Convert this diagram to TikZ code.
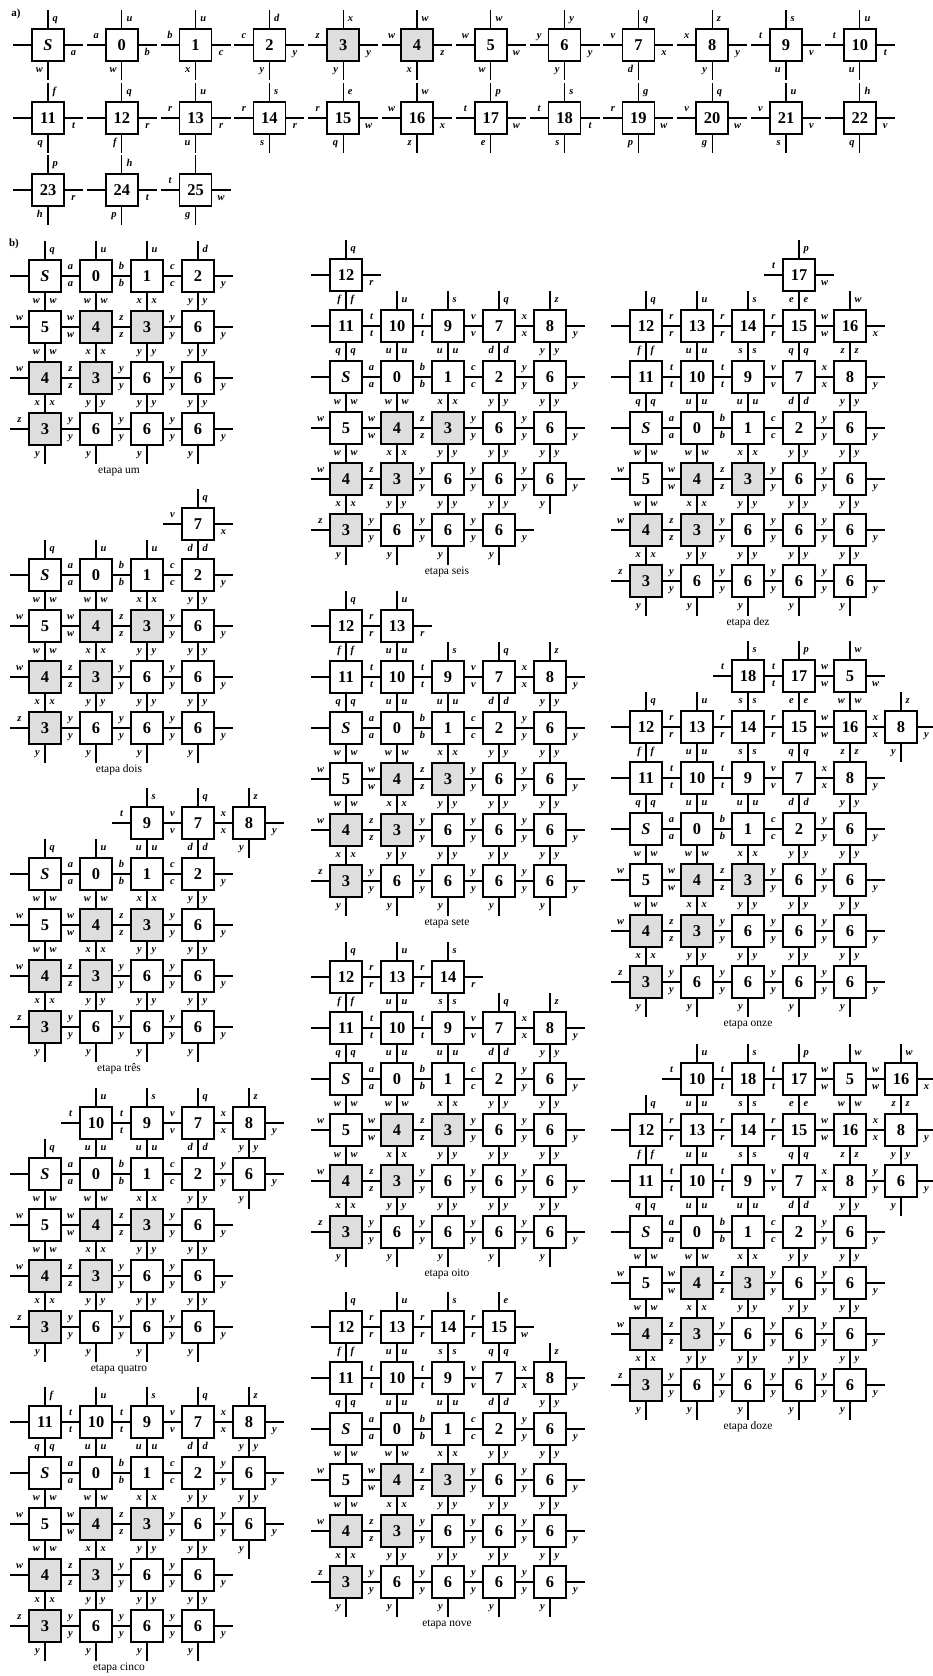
\documentclass[tikz,border=0pt]{standalone}
\usepackage{fontspec}
\setmainfont{Liberation Serif}
\newcommand\numfont{\fontsize{16.5}{16.5}\selectfont\bfseries}
\newcommand\labfont{\fontsize{10.5}{10.5}\selectfont\bfseries\itshape}
\newcommand\titfont{\fontsize{11.5}{12}\selectfont}
\newcommand\TL{19}
\newcommand\deftile[7]{\expandafter\def\csname wt#1\endcsname{{#2}{#3}{#4}{#5}{#6}{#7}}}
\newcommand\wtlab[5]{\def\wttmp{#1}\ifx\wttmp\empty\else\node[wlab,anchor=#3] (#2) at ({#4},{#5}) {#1};\fi}
\def\wtdraw#1#2#3#4#5#6#7#8#9{%
  \node[wbox,#5] (#7) at (#8,#9) {#6};
  \draw[wstub] (#7.north) -- ++(0,-\TL);
  \draw[wstub] (#7.south) -- ++(0,\TL);
  \draw[wstub] (#7.east) -- ++(\TL,0);
  \draw[wstub] (#7.west) -- ++(-\TL,0);
  \wtlab{#1}{#7t}{mid west}{#8+4.5}{#9-25.5}%
  \wtlab{#2}{#7r}{mid}{#8+25.5}{#9+8}%
  \wtlab{#3}{#7b}{mid east}{#8-5}{#9+25.5}%
  \wtlab{#4}{#7l}{mid}{#8-25.5}{#9-9}%
}
\newcommand\wtile[4]{\expandafter\expandafter\expandafter\wtdraw\csname wt#4\endcsname{#1}{#2}{#3}}
\newcommand\etapa[6]{%
  \edef\etlist{#4}%
  \foreach \c/\r/\i in \etlist {%
    \pgfmathsetmacro\px{#2+51*(\c)}%
    \pgfmathsetmacro\py{#3+51*(\r)}%
    \wtile{#1-\c-\r}{\px}{\py}{\i}%
  }%
  \node[wtitle] (#1title) at ({#2+#6},{#3+195}) {#5};
}
\deftile{S}{q}{a}{w}{}{wplain}{\textit{S}}
\deftile{0}{u}{b}{w}{a}{wplain}{0}
\deftile{1}{u}{c}{x}{b}{wplain}{1}
\deftile{2}{d}{y}{y}{c}{wplain}{2}
\deftile{3}{x}{y}{y}{z}{wshade}{3}
\deftile{4}{w}{z}{x}{w}{wshade}{4}
\deftile{5}{w}{w}{w}{w}{wplain}{5}
\deftile{6}{y}{y}{y}{y}{wplain}{6}
\deftile{7}{q}{x}{d}{v}{wplain}{7}
\deftile{8}{z}{y}{y}{x}{wplain}{8}
\deftile{9}{s}{v}{u}{t}{wplain}{9}
\deftile{10}{u}{t}{u}{t}{wplain}{10}
\deftile{11}{f}{t}{q}{}{wplain}{11}
\deftile{12}{q}{r}{f}{}{wplain}{12}
\deftile{13}{u}{r}{u}{r}{wplain}{13}
\deftile{14}{s}{r}{s}{r}{wplain}{14}
\deftile{15}{e}{w}{q}{r}{wplain}{15}
\deftile{16}{w}{x}{z}{w}{wplain}{16}
\deftile{17}{p}{w}{e}{t}{wplain}{17}
\deftile{18}{s}{t}{s}{t}{wplain}{18}
\deftile{19}{g}{w}{p}{r}{wplain}{19}
\deftile{20}{q}{w}{g}{v}{wplain}{20}
\deftile{21}{u}{v}{s}{v}{wplain}{21}
\deftile{22}{h}{v}{q}{}{wplain}{22}
\deftile{23}{p}{r}{h}{}{wplain}{23}
\deftile{24}{h}{t}{p}{}{wplain}{24}
\deftile{25}{}{w}{g}{t}{wplain}{25}
\def\baseL{0/0/S,1/0/0,2/0/1,3/0/2,0/1/5,1/1/4,2/1/3,3/1/6,0/2/4,1/2/3,2/2/6,3/2/6,0/3/3,1/3/6,2/3/6,3/3/6}
\def\rowM{0/-1/11,1/-1/10,2/-1/9,3/-1/7,4/-1/8}
\def\colF{4/0/6,4/1/6,4/2/6,4/3/6}
\def\rowT{0/-2/12,1/-2/13,2/-2/14,3/-2/15}
\tikzset{
  wbox/.style={draw, line width=1.7bp, minimum size=32bp, inner sep=0pt, outer sep=0pt, font=\numfont},
  wplain/.style={fill=white},
  wshade/.style={fill=black!13},
  wstub/.style={line width=1.3bp},
  wlab/.style={inner sep=0pt, font=\labfont},
  wtitle/.style={inner sep=0pt, font=\titfont},
  parttag/.style={inner sep=0pt, font=\fontsize{11}{11}\selectfont\bfseries}
}
\begin{document}
\begin{tikzpicture}[x=1bp,y=-1bp]
\fill[white] (0,0) rectangle (932,1676);
\useasboundingbox (0,0) rectangle (932,1676);
\node[parttag] (taga) at (16,14) {a)};
\node[parttag] (tagb) at (14,244) {b)};
% part a
\foreach \i [count=\k from 0] in {S,0,1,2,3,4,5,6,7,8,9,10} {%
  \pgfmathsetmacro\px{48+73.8*\k}%
  \wtile{a-\i}{\px}{45}{\i}}
\foreach \i [count=\k from 0] in {11,12,13,14,15,16,17,18,19,20,21,22} {%
  \pgfmathsetmacro\px{48+73.8*\k}%
  \wtile{a-\i}{\px}{118}{\i}}
\foreach \i [count=\k from 0] in {23,24,25} {%
  \pgfmathsetmacro\px{48+73.8*\k}%
  \wtile{a-\i}{\px}{190}{\i}}
% part b, column 1
\etapa{um}{45}{276}{\baseL}{etapa um}{74}
\etapa{dois}{45}{575}{\baseL,3/-1/7}{etapa dois}{74}
\etapa{tres}{45}{874}{\baseL,2/-1/9,3/-1/7,4/-1/8}{etapa três}{74}
\etapa{quatro}{45}{1174}{\baseL,1/-1/10,2/-1/9,3/-1/7,4/-1/8,4/0/6}{etapa quatro}{74}
\etapa{cinco}{45}{1473}{\baseL,\rowM,4/0/6,4/1/6}{etapa cinco}{74}
% column 2
\etapa{seis}{346}{377}{\baseL,\rowM,4/0/6,4/1/6,4/2/6,0/-2/12}{etapa seis}{101}
\etapa{sete}{346}{728}{\baseL,\rowM,\colF,0/-2/12,1/-2/13}{etapa sete}{101}
\etapa{oito}{346}{1079}{\baseL,\rowM,\colF,0/-2/12,1/-2/13,2/-2/14}{etapa oito}{101}
\etapa{nove}{346}{1429}{\baseL,\rowM,\colF,\rowT}{etapa nove}{101}
% column 3
\etapa{dez}{646}{428}{\baseL,\rowM,\colF,\rowT,4/-2/16,3/-3/17}{etapa dez}{102}
\etapa{onze}{646}{829}{\baseL,\rowM,\colF,\rowT,4/-2/16,5/-2/8,2/-3/18,3/-3/17,4/-3/5}{etapa onze}{102}
\etapa{doze}{646}{1232}{\baseL,\rowM,\colF,\rowT,4/-2/16,5/-2/8,5/-1/6,1/-3/10,2/-3/18,3/-3/17,4/-3/5,5/-3/16}{etapa doze}{102}
\end{tikzpicture}
\end{document}
